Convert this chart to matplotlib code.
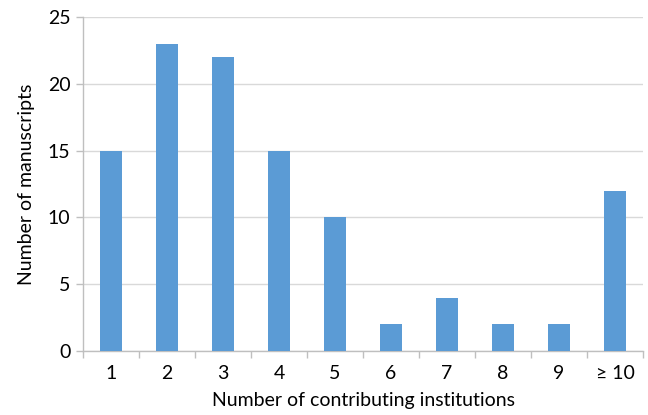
import matplotlib
matplotlib.use("Agg")
import matplotlib.pyplot as plt
import numpy as np

plt.rcParams['font.family'] = ['Lato', 'DejaVu Sans']

categories = ["1", "2", "3", "4", "5", "6", "7", "8", "9", "\u2265 10"]
counts = [15, 23, 22, 15, 10, 2, 4, 2, 2, 12]

fig = plt.figure(figsize=(6.48, 4.15), dpi=100)
ax = fig.add_axes([83/648, 1 - 351/415, (643 - 83)/648, (351 - 17)/415])

x = np.arange(len(categories))
ax.bar(x, counts, width=0.4, color="#5b9bd5", zorder=3)

ax.set_xlim(-0.5, len(categories) - 0.5)
ax.set_ylim(0, 25)
ax.set_yticks(np.arange(0, 26, 5))
ax.set_xticks(x)
ax.set_xticklabels(categories)
ax.set_xticks(np.arange(-0.5, len(categories)), minor=True)

ax.yaxis.grid(True, color="#d9d9d9", linewidth=1, zorder=0)
for s in ["top", "right"]:
    ax.spines[s].set_visible(False)
for s in ["left", "bottom"]:
    ax.spines[s].set_color("#bfbfbf")
    ax.spines[s].set_linewidth(1)

ax.tick_params(axis="x", which="major", length=0, pad=10, labelsize=14)
ax.tick_params(axis="x", which="minor", length=5, color="#bfbfbf", width=1)
ax.tick_params(axis="y", length=5, color="#bfbfbf", width=1, labelsize=14, pad=4)

ax.set_xlabel("Number of contributing institutions", fontsize=14, labelpad=7)
ax.set_ylabel("Number of manuscripts", fontsize=14, labelpad=9)

fig.savefig("out.png", dpi=100)
